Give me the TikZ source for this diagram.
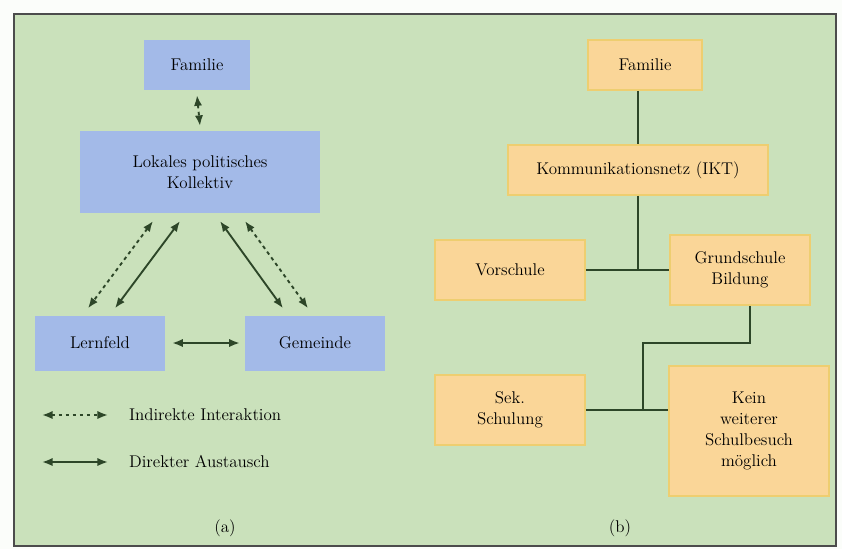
\documentclass[tikz,border=0pt]{standalone}
\usepackage{tikz}
\usetikzlibrary{arrows.meta, positioning, calc}

\definecolor{bggreen}{RGB}{202,225,187}
\definecolor{boxblue}{RGB}{163,186,232}
\definecolor{boxorange}{RGB}{250,214,152}
\definecolor{edgeyellow}{RGB}{238,206,112}
\definecolor{linegreen}{RGB}{45,70,40}

\tikzset{
    bluebox/.style={fill=boxblue, draw=none, align=center, inner sep=4pt},
    orangebox/.style={fill=boxorange, draw=edgeyellow, line width=1.6pt, align=center, inner sep=4pt},
    solidlink/.style={{Latex[length=9pt,width=7pt]}-{Latex[length=9pt,width=7pt]}, line width=1.6pt, draw=linegreen},
    dashlink/.style={solidlink, dashed},
    treeline/.style={line width=1.5pt, draw=linegreen}
}

\begin{document}
\begin{tikzpicture}[x=0.03cm, y=-0.03cm, font=\fontsize{14.5}{18}\selectfont]
    \useasboundingbox (0,0) rectangle (842,549);
    \fill[white!92!bggreen] (0,0) rectangle (842,549);
    \draw[fill=bggreen, draw=black!70, line width=1pt] (14,14) rectangle (836,546);

    % (a) left part
    \node[bluebox, minimum width=3.15cm, minimum height=1.5cm] (fam1) at (197,65) {Familie};
    \node[bluebox, minimum width=7.2cm, minimum height=2.45cm] (umf) at (200,172) {Lokales politisches\\Kollektiv};
    \node[bluebox, minimum width=3.9cm, minimum height=1.65cm] (lern) at (100,343) {Lernfeld};
    \node[bluebox, minimum width=4.2cm, minimum height=1.65cm] (gem) at (315,343) {Gemeinde};

    \draw[dashlink] ($(fam1.south)+(0,5)$) -- ($(umf.north)+(0,-5)$);
    \draw[dashlink] ($(umf.south)+(-47,8)$) -- ($(lern.north)+(-12,-7)$);
    \draw[solidlink] ($(umf.south)+(-20,8)$) -- ($(lern.north)+(15,-7)$);
    \draw[solidlink] ($(umf.south)+(20,8)$) -- ($(gem.north)+(-32,-7)$);
    \draw[dashlink] ($(umf.south)+(45,8)$) -- ($(gem.north)+(-7,-7)$);
    \draw[solidlink] ($(lern.east)+(7,0)$) -- ($(gem.west)+(-5,0)$);

    % legend
    \coordinate (leg1a) at (42,415);
    \coordinate (leg1b) at (108,415);
    \coordinate (leg2a) at (42,462);
    \coordinate (leg2b) at (108,462);
    \draw[dashlink] (leg1a) -- (leg1b);
    \draw[solidlink] (leg2a) -- (leg2b);
    \node[anchor=west] (leg1) at (125,415) {Indirekte Interaktion};
    \node[anchor=west] (leg2) at (125,462) {Direkter Austausch};

    \node (capa) at (225,528) {(a)};

    % (b) right part
    \node[orangebox, minimum width=3.4cm, minimum height=1.5cm] (fam2) at (645,65) {Familie};
    \node[orangebox, minimum width=7.8cm, minimum height=1.5cm] (kom) at (638,170) {Kommunikationsnetz (IKT)};
    \node[orangebox, minimum width=4.5cm, minimum height=1.8cm] (vor) at (510,270) {Vorschule};
    \node[orangebox, minimum width=4.2cm, minimum height=2.1cm] (grund) at (740,270) {Grundschule\\Bildung};
    \node[orangebox, minimum width=4.5cm, minimum height=2.1cm] (sek) at (510,410) {Sek.\\Schulung};
    \node[orangebox, minimum width=4.8cm, minimum height=3.9cm] (kein) at (749,431) {Kein\\weiterer\\Schulbesuch\\möglich};

    \coordinate (knot) at (643,343);
    \draw[treeline] (fam2.south -| kom.north) -- (kom.north);
    \draw[treeline] (kom.south) -- (kom.south |- vor.east);
    \draw[treeline] (vor.east) -- (grund.west);
    \draw[treeline] ($(grund.south)+(10,0)$) |- (knot) -- (knot |- sek.east);
    \draw[treeline] (sek.east) -- (sek.east -| kein.west);

    \node (capb) at (620,528) {(b)};
\end{tikzpicture}
\end{document}
